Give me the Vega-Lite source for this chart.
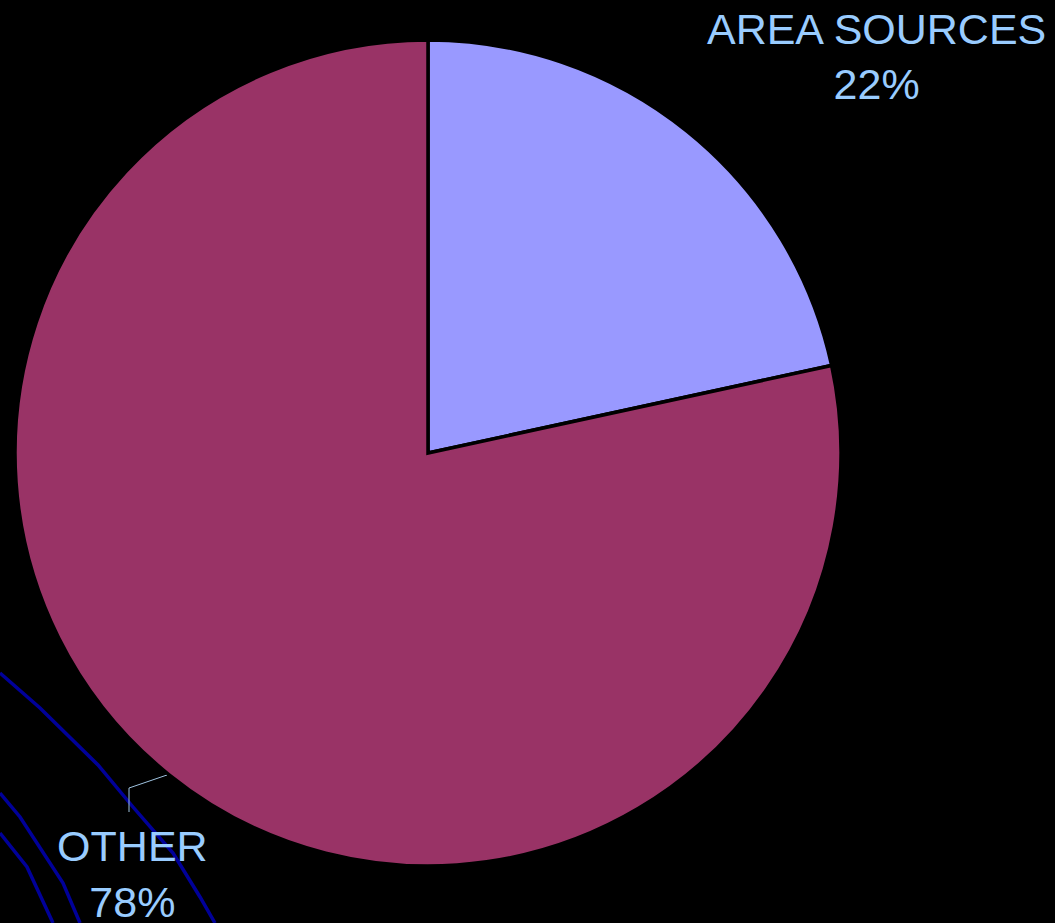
{
  "$schema": "https://vega.github.io/schema/vega-lite/v6.json",
  "width": 856,
  "height": 906,
  "autosize": "none",
  "padding": {"left": 0, "top": 0, "right": 199, "bottom": 17},
  "background": "#000000",
  "config": {"view": {"stroke": null}},
  "datasets": {
    "shares": [
      {"category": "AREA SOURCES", "share": 21.6, "order": 1, "label": "AREA SOURCES\n22%"},
      {"category": "OTHER", "share": 78.4, "order": 2, "label": "OTHER\n78%"}
    ],
    "curves": [
      {"curve": "A", "seq": 1, "px": 0, "py": 673},
      {"curve": "A", "seq": 2, "px": 40, "py": 708},
      {"curve": "A", "seq": 3, "px": 98, "py": 765},
      {"curve": "A", "seq": 4, "px": 133, "py": 807},
      {"curve": "A", "seq": 5, "px": 173, "py": 853},
      {"curve": "A", "seq": 6, "px": 200, "py": 897},
      {"curve": "A", "seq": 7, "px": 215, "py": 923},
      {"curve": "B", "seq": 1, "px": 0, "py": 793},
      {"curve": "B", "seq": 2, "px": 20, "py": 817},
      {"curve": "B", "seq": 3, "px": 63, "py": 883},
      {"curve": "B", "seq": 4, "px": 80, "py": 923},
      {"curve": "C", "seq": 1, "px": 0, "py": 833},
      {"curve": "C", "seq": 2, "px": 27, "py": 867},
      {"curve": "C", "seq": 3, "px": 53, "py": 923}
    ],
    "leader": [
      {"seq": 1, "px": 167, "py": 775},
      {"seq": 2, "px": 129, "py": 788},
      {"seq": 3, "px": 129, "py": 812}
    ]
  },
  "layer": [
    {
      "data": {"name": "curves"},
      "mark": {"type": "line", "stroke": "#000099", "strokeWidth": 3.5, "clip": false},
      "encoding": {
        "x": {"field": "px", "type": "quantitative", "scale": {"domain": [0, 856], "nice": false, "zero": false}, "axis": null},
        "y": {"field": "py", "type": "quantitative", "scale": {"domain": [0, 906], "nice": false, "zero": false, "reverse": true}, "axis": null},
        "detail": {"field": "curve", "type": "nominal"},
        "order": {"field": "seq", "type": "quantitative"}
      }
    },
    {
      "data": {"name": "leader"},
      "mark": {"type": "line", "stroke": "#9FC3E0", "strokeWidth": 1, "clip": false},
      "encoding": {
        "x": {"field": "px", "type": "quantitative", "scale": {"domain": [0, 856], "nice": false, "zero": false}, "axis": null},
        "y": {"field": "py", "type": "quantitative", "scale": {"domain": [0, 906], "nice": false, "zero": false, "reverse": true}, "axis": null},
        "order": {"field": "seq", "type": "quantitative"}
      }
    },
    {
      "data": {"name": "shares"},
      "mark": {"type": "arc", "outerRadius": 413, "stroke": "#000000", "strokeWidth": 3.5},
      "encoding": {
        "theta": {"field": "share", "type": "quantitative", "stack": true},
        "order": {"field": "order", "type": "quantitative"},
        "color": {"field": "category", "type": "nominal", "scale": {"domain": ["AREA SOURCES", "OTHER"], "range": ["#9999FF", "#993366"]}, "legend": null}
      }
    },
    {
      "data": {"name": "shares"},
      "mark": {"type": "text", "radius": 600, "dx": 72, "dy": 45, "font": "Liberation Sans", "fontSize": 43, "lineBreak": "\n", "lineHeight": 55, "align": "center", "baseline": "middle", "fill": "#99CCFF"},
      "encoding": {
        "theta": {"field": "share", "type": "quantitative", "stack": true},
        "order": {"field": "order", "type": "quantitative"},
        "text": {"condition": {"test": "datum.category === 'AREA SOURCES'", "field": "label"}, "value": ""}
      }
    },
    {
      "data": {"name": "shares"},
      "mark": {"type": "text", "radius": 514, "dx": 27, "dy": -5, "font": "Liberation Sans", "fontSize": 43, "lineBreak": "\n", "lineHeight": 56, "align": "center", "baseline": "middle", "fill": "#99CCFF"},
      "encoding": {
        "theta": {"field": "share", "type": "quantitative", "stack": true},
        "order": {"field": "order", "type": "quantitative"},
        "text": {"condition": {"test": "datum.category === 'OTHER'", "field": "label"}, "value": ""}
      }
    }
  ],
  "resolve": {"scale": {"x": "shared", "y": "shared"}}
}
